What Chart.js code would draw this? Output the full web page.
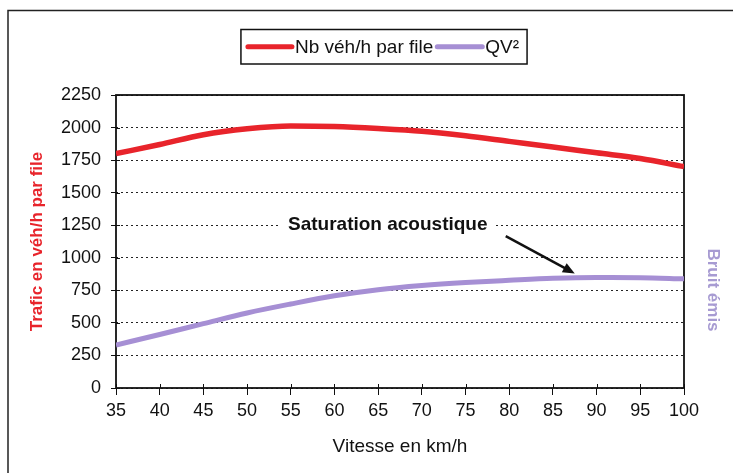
<!DOCTYPE html>
<html>
<head>
<meta charset="utf-8">
<script src="https://cdn.jsdelivr.net/npm/chart.js@4.4.1/dist/chart.umd.min.js"></script>
<style>
  html, body { margin: 0; padding: 0; background: #fff; }
  #wrap { width: 733px; height: 473px; }
</style>
</head>
<body>
<div id="wrap"><canvas id="chart" width="733" height="473"></canvas></div>
<script>
const speeds = [35, 40, 45, 50, 55, 60, 65, 70, 75, 80, 85, 90, 95, 100];
const trafic = [1800, 1870, 1945, 1990, 2012, 2008, 1993, 1972, 1937, 1894, 1851, 1806, 1762, 1700];
const qv2 = [330, 411, 494, 576, 645, 708, 755, 787, 810, 827, 842, 848, 847, 838];
const seriesNames = ["Nb véh/h par file", "QV²"];
const yTicks = [0, 250, 500, 750, 1000, 1250, 1500, 1750, 2000, 2250];

// annotation : texte et flèche (en km/h, véh/h)
const noteText = "Saturation acoustique";
const notePos = [66.1, 1250];
const arrowFrom = [79.6, 1167];
const arrowTo = [87.5, 880];

const RED = "#e8242b";
const PURPLE = "#a68fd4";
const FONT = "'Liberation Sans', Arial, sans-serif";

const canvas = document.querySelector("#chart");

const framePlugin = {
  id: "frame",
  beforeDraw(chart) {
    const ctx = chart.ctx;
    ctx.save();
    ctx.fillStyle = "#fff";
    ctx.fillRect(0, 0, chart.width, chart.height);
    ctx.strokeStyle = "#222";
    ctx.lineWidth = 1.5;
    ctx.strokeRect(8, 10.5, 800, 600);
    ctx.restore();
  },
  beforeDatasetsDraw(chart) {
    const ctx = chart.ctx;
    const a = chart.chartArea;
    const x = chart.scales.x;
    const y = chart.scales.y;
    ctx.save();
    ctx.strokeStyle = "#111";
    ctx.lineWidth = 1;
    // petits traits de graduation vers l'intérieur
    x.ticks.forEach((t) => {
      const px = Math.round(x.getPixelForValue(t.value)) + 0.5;
      ctx.beginPath();
      ctx.moveTo(px, a.bottom - 4);
      ctx.lineTo(px, a.bottom);
      ctx.stroke();
    });
    y.ticks.forEach((t) => {
      const py = Math.round(y.getPixelForValue(t.value)) + 0.5;
      ctx.beginPath();
      ctx.moveTo(a.left, py);
      ctx.lineTo(a.left + 4, py);
      ctx.stroke();
    });
    ctx.lineWidth = 1.8;
    ctx.strokeStyle = "#111";
    ctx.strokeRect(a.left, a.top, a.right - a.left, a.bottom - a.top);
    ctx.restore();
  },
  afterDatasetsDraw(chart) {
    const ctx = chart.ctx;
    const x = chart.scales.x;
    const y = chart.scales.y;
    ctx.save();

    // texte de l'annotation sur fond blanc
    ctx.font = "bold 19px " + FONT;
    const tx = x.getPixelForValue(notePos[0]);
    const ty = y.getPixelForValue(notePos[1]);
    const tw = ctx.measureText(noteText).width;
    ctx.fillStyle = "#fff";
    ctx.fillRect(tx - tw / 2 - 8, ty - 10, tw + 16, 20);
    ctx.fillStyle = "#111";
    ctx.textAlign = "center";
    ctx.textBaseline = "middle";
    ctx.fillText(noteText, tx, ty);

    // flèche
    const x1 = x.getPixelForValue(arrowFrom[0]);
    const y1 = y.getPixelForValue(arrowFrom[1]);
    const x2 = x.getPixelForValue(arrowTo[0]);
    const y2 = y.getPixelForValue(arrowTo[1]);
    const ang = Math.atan2(y2 - y1, x2 - x1);
    const head = 13;
    ctx.strokeStyle = "#111";
    ctx.lineWidth = 2.5;
    ctx.beginPath();
    ctx.moveTo(x1, y1);
    ctx.lineTo(x2 - Math.cos(ang) * head * 0.7, y2 - Math.sin(ang) * head * 0.7);
    ctx.stroke();
    ctx.beginPath();
    ctx.moveTo(x2, y2);
    ctx.lineTo(x2 - head * Math.cos(ang - 0.4), y2 - head * Math.sin(ang - 0.4));
    ctx.lineTo(x2 - head * Math.cos(ang + 0.4), y2 - head * Math.sin(ang + 0.4));
    ctx.closePath();
    ctx.fillStyle = "#111";
    ctx.fill();

    // titre de droite
    ctx.save();
    ctx.translate(713, 290);
    ctx.rotate(Math.PI / 2);
    ctx.font = "bold 17px " + FONT;
    ctx.fillStyle = "#a79bd2";
    ctx.textAlign = "center";
    ctx.textBaseline = "middle";
    ctx.fillText("Bruit émis", 0, 0);
    ctx.restore();

    ctx.restore();
  },
  afterDraw(chart) {
    // légende encadrée
    const ctx = chart.ctx;
    const sets = chart.data.datasets;
    const lineLens = [44, 45];
    ctx.save();
    ctx.font = "19px " + FONT;
    let total = 7;
    sets.forEach((ds, i) => {
      total += lineLens[i] + 3 + ctx.measureText(ds.label).width + 4;
    });
    total += 4;
    const cx = 384;
    const top = 29.5;
    const h = 34.5;
    let left = cx - total / 2;
    ctx.strokeStyle = "#111";
    ctx.lineWidth = 1.5;
    ctx.strokeRect(left, top, total, h);
    let px = left + 7;
    const my = top + h / 2;
    sets.forEach((ds, i) => {
      ctx.strokeStyle = ds.borderColor;
      ctx.lineWidth = 5;
      ctx.lineCap = "round";
      ctx.beginPath();
      ctx.moveTo(px, my);
      ctx.lineTo(px + lineLens[i], my);
      ctx.stroke();
      px += lineLens[i] + 3;
      ctx.fillStyle = "#111";
      ctx.textBaseline = "middle";
      ctx.textAlign = "left";
      ctx.fillText(ds.label, px, my + 1);
      px += ctx.measureText(ds.label).width + 4;
    });
    ctx.restore();
  },
};

new Chart(canvas, {
  type: "line",
  data: {
    datasets: [
      {
        label: seriesNames[0],
        data: speeds.map((v, i) => ({ x: v, y: trafic[i] })),
        borderColor: RED,
        borderWidth: 5.5,
        pointRadius: 0,
        cubicInterpolationMode: "monotone",
      },
      {
        label: seriesNames[1],
        data: speeds.map((v, i) => ({ x: v, y: qv2[i] })),
        borderColor: PURPLE,
        borderWidth: 5,
        pointRadius: 0,
        cubicInterpolationMode: "monotone",
      },
    ],
  },
  options: {
    responsive: false,
    animation: false,
    devicePixelRatio: 1,
    layout: { padding: { left: 0, right: 49, top: 95, bottom: 0 } },
    plugins: {
      legend: { display: false },
      tooltip: { enabled: false },
    },
    scales: {
      x: {
        type: "linear",
        min: speeds[0],
        max: speeds[speeds.length - 1],
        afterFit: (scale) => {
          scale.height = 85;
        },
        afterBuildTicks: (scale) => {
          scale.ticks = speeds.map((v) => ({ value: v }));
        },
        ticks: {
          color: "#111",
          font: { family: FONT, size: 18 },
          padding: 5,
          maxRotation: 0,
          callback: (v) => String(v),
        },
        grid: {
          drawOnChartArea: false,
          drawTicks: true,
          tickLength: 7,
          tickColor: "#111",
        },
        border: { display: false },
        title: {
          display: true,
          text: "Vitesse en km/h",
          color: "#111",
          font: { family: FONT, size: 19 },
          padding: { top: 0, bottom: 15 },
        },
      },
      y: {
        min: 0,
        max: 2250,
        afterFit: (scale) => {
          scale.width = 116;
        },
        afterBuildTicks: (scale) => {
          scale.ticks = yTicks.map((v) => ({ value: v }));
        },
        ticks: {
          color: "#111",
          font: { family: FONT, size: 18 },
          padding: 10,
          callback: (v) => String(v),
        },
        grid: {
          color: "#222",
          lineWidth: 1,
          drawTicks: true,
          tickLength: 5,
          tickColor: "#111",
          tickBorderDash: [],
        },
        border: { display: false, dash: [2, 3] },
        title: {
          display: true,
          text: "Trafic en véh/h par file",
          color: RED,
          font: { family: FONT, size: 17, weight: "bold" },
          padding: { top: 27, bottom: 0 },
        },
      },
    },
  },
  plugins: [framePlugin],
});
</script>
</body>
</html>
